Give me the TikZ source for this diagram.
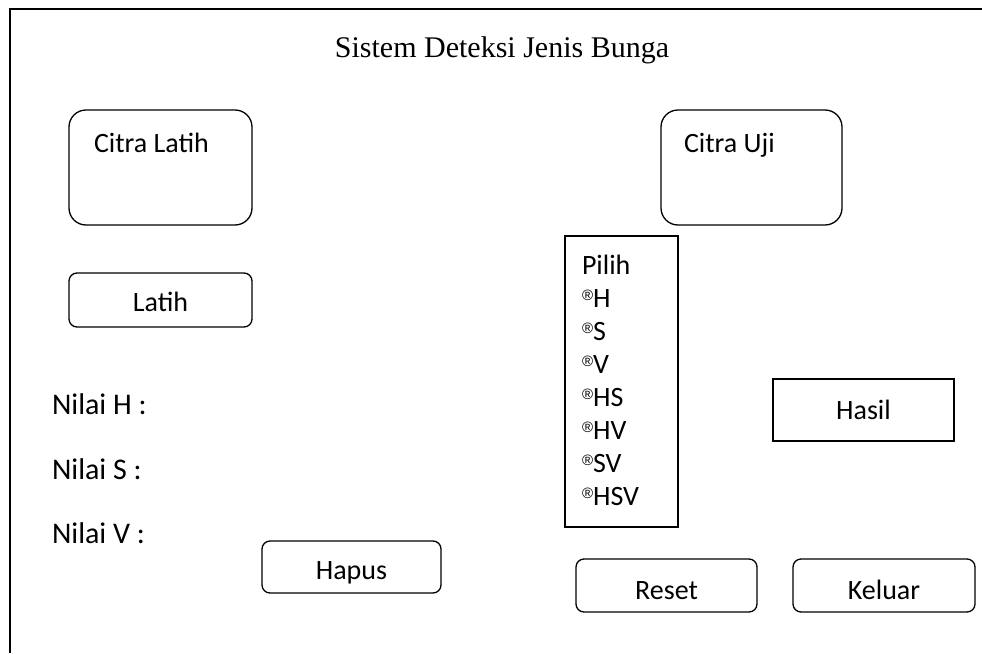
\documentclass[tikz,border=0pt]{standalone}
\usepackage{fontspec}
\setmainfont{Carlito}
\newfontfamily\titlefont{Liberation Serif}
\newfontfamily\markfont{Liberation Sans}
% registered mark placed as a raised, small circle before each option
\newcommand{\regmark}{\raisebox{7pt}{\markfont\fontsize{15}{15}\selectfont ®}}
\begin{document}
\begin{tikzpicture}[x=1pt,y=-1pt,
  every node/.style={inner sep=0pt, outer sep=0pt},
  frameline/.style={line width=2pt},
  panel/.style={draw, line width=1.3pt, rounded corners=17pt},
  button/.style={draw, line width=1.3pt, rounded corners=8pt},
  plainbox/.style={draw, line width=1.3pt},
  label/.style={font=\fontsize{28}{32}\selectfont},
  valuelabel/.style={font=\fontsize{30}{34}\selectfont},
  titletext/.style={font=\titlefont\fontsize{30}{34}\selectfont}]
\useasboundingbox (0,0) rectangle (982,653);

% window frame (cut off at the right and bottom)
\coordinate (frameBL) at (10,653);
\coordinate (frameTL) at (10,9);
\coordinate (frameTR) at (982,9);
\draw[frameline] (frameBL) -- (frameTL) -- (frameTR);

% title
\node[titletext, anchor=base] (title) at (502,57) {Sistem Deteksi Jenis Bunga};

% image panels
\draw[panel] (69,110) rectangle (252,225);
\node[label, anchor=base west] (citralatih) at (94,152) {Citra Latih};
\draw[panel] (661,110) rectangle (842,225);
\node[label, anchor=base west] (citrauji) at (684,152) {Citra Uji};

% buttons
\node[button, minimum width=183, minimum height=54] (latih) at (160.5,300) {};
\node[label, anchor=base] (latihtext) at (latih.center |- 0,311) {Latih};
\node[button, minimum width=179, minimum height=52] (hapus) at (351.5,567) {};
\node[label, anchor=base] (hapustext) at (hapus.center |- 0,579) {Hapus};
\node[button, minimum width=181, minimum height=53] (reset) at (666.5,585.5) {};
\node[label, anchor=base] (resettext) at (reset.center |- 0,599) {Reset};
\node[button, minimum width=182, minimum height=53] (keluar) at (884,585.5) {};
\node[label, anchor=base] (keluartext) at (keluar.center |- 0,599) {Keluar};
\node[plainbox, minimum width=181, minimum height=62] (hasil) at (863.5,410) {};
\node[label, anchor=base] (hasiltext) at (hasil.center |- 0,419) {Hasil};

% feature values
\node[valuelabel, anchor=base west] (nilaiH) at (52,414) {Nilai H :};
\node[valuelabel, anchor=base west] (nilaiS) at (52,479) {Nilai S :};
\node[valuelabel, anchor=base west] (nilaiV) at (52,543) {Nilai V :};

% channel selection
\node[plainbox, minimum width=113, minimum height=291] (pilihbox) at (621.5,381.5) {};
\node[label, anchor=base west] (pilih) at (582,274) {Pilih};
\node[label, anchor=base west] (optH) at (582,307) {\regmark H};
\node[label, anchor=base west] (optS) at (582,340) {\regmark S};
\node[label, anchor=base west] (optV) at (582,373) {\regmark V};
\node[label, anchor=base west] (optHS) at (582,406) {\regmark HS};
\node[label, anchor=base west] (optHV) at (582,439) {\regmark HV};
\node[label, anchor=base west] (optSV) at (582,472) {\regmark SV};
\node[label, anchor=base west] (optHSV) at (582,505) {\regmark HSV};
\end{tikzpicture}
\end{document}
